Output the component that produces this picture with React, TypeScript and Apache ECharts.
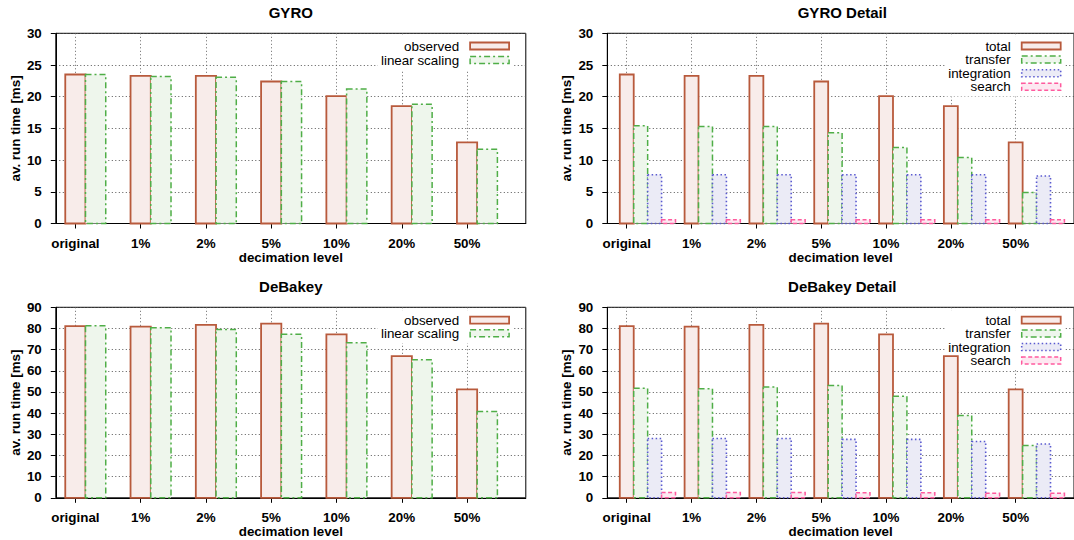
import React, { useEffect, useRef } from "react";
import * as echarts from "echarts";

const categories = ["original", "1%", "2%", "5%", "10%", "20%", "50%"];

const gyroObserved = [23.5, 23.3, 23.3, 22.4, 20.1, 18.5, 12.8];
const gyroLinear = [23.5, 23.2, 23.05, 22.4, 21.2, 18.8, 11.7];
const gyroTotal = [23.5, 23.3, 23.3, 22.4, 20.1, 18.5, 12.8];
const gyroTransfer = [15.4, 15.3, 15.3, 14.3, 12.0, 10.4, 4.9];
const gyroIntegration = [7.7, 7.7, 7.7, 7.7, 7.7, 7.7, 7.5];
const gyroSearch = [0.6, 0.6, 0.6, 0.6, 0.6, 0.6, 0.6];

const debObserved = [81.1, 80.9, 81.7, 82.3, 77.2, 66.9, 51.2];
const debLinear = [81.3, 80.3, 79.5, 77.3, 73.2, 65.2, 40.8];
const debTotal = [81.1, 80.9, 81.7, 82.3, 77.2, 66.9, 51.2];
const debTransfer = [51.7, 51.5, 52.3, 53.1, 48.0, 38.9, 24.7];
const debIntegration = [28.0, 28.0, 28.0, 27.6, 27.6, 26.6, 25.4];
const debSearch = [2.5, 2.5, 2.5, 2.4, 2.4, 2.1, 2.1];

const FONT = '"Liberation Sans", Arial, Helvetica, sans-serif';

type Sty = { fill: string; stroke: string; lineWidth: number; lineDash: number[] | null };
const STY: Record<string, Sty> = {
  red: { fill: "#f8ecea", stroke: "#b85a3c", lineWidth: 1.8, lineDash: null },
  green: { fill: "#eef6ec", stroke: "#4fae47", lineWidth: 1.5, lineDash: [6, 3, 2, 3] },
  blue: { fill: "#ebebf6", stroke: "#5a5ad0", lineWidth: 1.6, lineDash: [1.5, 2.5] },
  pink: { fill: "#fde8f1", stroke: "#ff5a9e", lineWidth: 1.5, lineDash: [4, 2.5] },
};

function makeRender(k: number, frac: number, sty: Sty) {
  return (_params: any, api: any) => {
    const i = api.value(0);
    const v = api.value(1);
    const p0 = api.coord([i, 0]);
    const p1 = api.coord([i, v]);
    const w = api.size([1, 0])[0] * frac;
    const x = p0[0] - w / 2 + k * w;
    return {
      type: "rect",
      shape: { x, y: p1[1], width: w, height: p0[1] - p1[1] },
      style: {
        fill: sty.fill,
        stroke: sty.stroke,
        lineWidth: sty.lineWidth,
        lineDash: sty.lineDash || undefined,
      },
    };
  };
}

type PanelDef = {
  title: string;
  left: number;
  top: number;
  height: number;
  ymax: number;
  yint: number;
  frac: number;
  series: { name: string; values: number[]; sty: Sty }[];
  legendRight: number;
  legendTop: number;
  legendLine: number;
};

const W = 470;

function App() {
  const ref = useRef<HTMLDivElement>(null);
  useEffect(() => {
    if (!ref.current) return;
    const chart = echarts.init(ref.current, undefined, { renderer: "svg" });

    const panels: PanelDef[] = [
      {
        title: "GYRO", left: 55.8, top: 33.3, height: 190.2, ymax: 30, yint: 5, frac: 0.31,
        series: [
          { name: "observed", values: gyroObserved, sty: STY.red },
          { name: "linear scaling", values: gyroLinear, sty: STY.green },
        ],
        legendRight: 1074 - 510 - 3, legendTop: 36, legendLine: 14,
      },
      {
        title: "GYRO Detail", left: 607.3, top: 33.3, height: 190.2, ymax: 30, yint: 5, frac: 0.215,
        series: [
          { name: "total", values: gyroTotal, sty: STY.red },
          { name: "transfer", values: gyroTransfer, sty: STY.green },
          { name: "integration", values: gyroIntegration, sty: STY.blue },
          { name: "search", values: gyroSearch, sty: STY.pink },
        ],
        legendRight: 1074 - 1061.6 - 3, legendTop: 36.2, legendLine: 13.6,
      },
      {
        title: "DeBakey", left: 55.8, top: 307.3, height: 190.5, ymax: 90, yint: 10, frac: 0.31,
        series: [
          { name: "observed", values: debObserved, sty: STY.red },
          { name: "linear scaling", values: debLinear, sty: STY.green },
        ],
        legendRight: 1074 - 510 - 3, legendTop: 310.5, legendLine: 13.2,
      },
      {
        title: "DeBakey Detail", left: 607.3, top: 307.3, height: 190.5, ymax: 90, yint: 10, frac: 0.215,
        series: [
          { name: "total", values: debTotal, sty: STY.red },
          { name: "transfer", values: debTransfer, sty: STY.green },
          { name: "integration", values: debIntegration, sty: STY.blue },
          { name: "search", values: debSearch, sty: STY.pink },
        ],
        legendRight: 1074 - 1061.6 - 3, legendTop: 310.5, legendLine: 13.4,
      },
    ];

    const idx = categories.map((_, i) => i);
    const axisText = { fontFamily: FONT, fontWeight: "bold" as const, fontSize: 13.4, color: "#000" };

    const option: any = {
      animation: false,
      backgroundColor: "#fff",
      title: panels.map((p) => ({
        text: p.title,
        left: p.left + W / 2,
        textAlign: "center",
        top: p.top - 28,
        padding: 0,
        textStyle: { fontFamily: FONT, fontWeight: "bold", fontSize: 15, color: "#000" },
      })),
      grid: panels.map((p) => ({
        left: p.left, top: p.top, width: W, height: p.height,
        show: true, borderColor: "#000", borderWidth: 1, backgroundColor: "transparent",
      })),
      xAxis: panels.map((p, gi) => ({
        type: "value", gridIndex: gi, min: -0.3, max: 6.9,
        axisLine: { show: true, onZero: false, lineStyle: { color: "#000", width: 1 } },
        axisTick: { show: true, customValues: idx, length: 5, lineStyle: { color: "#000" } },
        axisLabel: {
          customValues: idx,
          formatter: (v: number) => categories[Math.round(v)] ?? "",
          margin: 13.5, ...axisText,
        },
        splitLine: { show: true, lineStyle: { color: "#666", type: [1, 2.5], width: 1 } },
        name: "decimation level", nameLocation: "middle", nameGap: 27,
        nameTextStyle: axisText,
      })),
      yAxis: panels.map((p, gi) => ({
        type: "value", gridIndex: gi, min: 0, max: p.ymax, interval: p.yint,
        axisLine: { show: true, onZero: false, lineStyle: { color: "#000", width: 1 } },
        axisTick: { show: true, length: 5, lineStyle: { color: "#000" } },
        axisLabel: { margin: 14, ...axisText },
        splitLine: { show: true, lineStyle: { color: "#555", type: [1, 2.5], width: 1 } },
        name: "av. run time [ms]", nameLocation: "middle", nameGap: 34, nameRotate: 90,
        nameTextStyle: axisText,
      })),
      legend: panels.map((p) => ({
        orient: "vertical", align: "right", right: p.legendRight, top: p.legendTop,
        padding: 3, itemGap: 0, itemWidth: 39, itemHeight: 7, z: 1,
        backgroundColor: "#fff", selectedMode: false,
        textStyle: { fontFamily: FONT, fontSize: 13.4, color: "#000", lineHeight: p.legendLine, padding: [0, 6, 0, 0] },
        data: p.series.map((s) => ({
          name: s.name, icon: "rect",
          itemStyle: {
            color: s.sty.fill, borderColor: s.sty.stroke, borderWidth: s.sty.lineWidth,
            borderType: s.sty.lineDash || "solid",
          },
        })),
      })),
      series: panels.flatMap((p, gi) =>
        p.series.map((s, k) => ({
          type: "custom", name: s.name, xAxisIndex: gi, yAxisIndex: gi,
          itemStyle: { color: s.sty.fill, borderColor: s.sty.stroke, borderWidth: s.sty.lineWidth, borderType: s.sty.lineDash || "solid" },
          renderItem: makeRender(k, p.frac, s.sty),
          encode: { x: 0, y: 1 },
          data: s.values.map((v, i) => [i, v]),
          z: 3,
        }))
      ),
    };
    chart.setOption(option);
    return () => chart.dispose();
  }, []);
  return <div ref={ref} style={{ position: "absolute", left: 0, top: 0, width: 1074, height: 540 }} />;
}

export default App;
